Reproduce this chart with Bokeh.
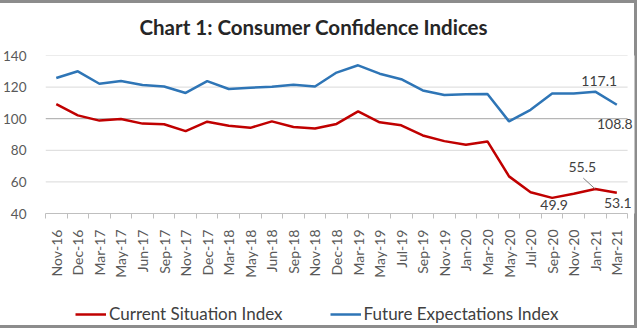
import math
from bokeh.plotting import figure
from bokeh.layouts import column
from bokeh.models import (Legend, LegendItem, FixedTicker, Label,
                          Range1d, ColumnDataSource)
from bokeh.embed import file_html
from bokeh.resources import INLINE

categories = ["Nov-16", "Dec-16", "Mar-17", "May-17", "Jun-17", "Sep-17", "Nov-17",
              "Dec-17", "Mar-18", "May-18", "Jun-18", "Sep-18", "Nov-18", "Dec-18",
              "Mar-19", "May-19", "Jul-19", "Sep-19", "Nov-19", "Jan-20", "Mar-20",
              "May-20", "Jul-20", "Sep-20", "Nov-20", "Jan-21", "Mar-21"]
current = [109.2, 102.1, 98.8, 99.8, 96.9, 96.5, 92.1, 98.1, 95.6, 94.2, 98.3, 94.8,
           93.8, 96.7, 104.6, 97.7, 95.8, 89.4, 85.8, 83.5, 85.6, 63.5, 53.5, 49.9,
           52.5, 55.5, 53.1]
future = [125.8, 130.0, 122.1, 123.8, 121.3, 120.4, 116.3, 123.8, 118.8, 119.6, 120.2,
          121.5, 120.4, 129.2, 133.8, 128.5, 125.0, 117.9, 115.0, 115.4, 115.6, 98.3,
          105.6, 116.0, 116.0, 117.1, 108.8]
series_names = ["Current Situation Index", "Future Expectations Index"]
y_ticks = [40, 60, 80, 100, 120, 140]

FONT = "Lato"
TXT = "#595959"
RED = "#C00000"
BLUE = "#2E75B6"
EDGE = "#8C8C8C"

N = len(categories)
xs = list(range(N))
x_lo, x_hi = -0.5, N - 0.5

p = figure(width=637, height=292, output_backend="svg", toolbar_location=None,
           x_range=Range1d(x_lo, x_hi + 0.32), y_range=Range1d(40, 140),
           min_border_left=41, min_border_right=3, min_border_top=53,
           min_border_bottom=79, background_fill_color="white",
           border_fill_color=None)
p.outline_line_color = None
p.styles = {"background-color": "white",
            "box-shadow": f"inset 0 3px 0 {EDGE}, inset -3px 0 0 {EDGE}"}

p.title.text = "Chart 1: Consumer Confidence Indices"
p.title.align = "left"
p.title.offset = 94
p.title.text_font = FONT
p.title.text_font_size = "20.5px"
p.title.text_font_style = "bold"
p.title.text_color = "#262626"
p.title.standoff = 29
p.title.vertical_align = "top"

# axes
p.yaxis.ticker = FixedTicker(ticks=y_ticks)
p.yaxis.axis_line_color = None
p.yaxis.major_tick_line_color = None
p.yaxis.minor_tick_line_color = None
p.yaxis.major_label_standoff = 13
p.yaxis.major_label_text_font = FONT
p.yaxis.major_label_text_font_size = "13.5px"
p.yaxis.major_label_text_color = TXT

p.xaxis.ticker = FixedTicker(ticks=xs, minor_ticks=[i - 0.5 for i in range(N + 1)])
p.xaxis.bounds = (x_lo, x_hi)
p.xaxis.major_label_overrides = {i: c for i, c in enumerate(categories)}
p.xaxis.major_label_orientation = math.pi / 2
p.xaxis.major_tick_line_color = None
p.xaxis.minor_tick_in = 0
p.xaxis.minor_tick_out = 5
p.xaxis.minor_tick_line_color = "#BFBFBF"
p.xaxis.axis_line_color = "#BFBFBF"
p.xaxis.major_label_standoff = 10
p.xaxis.major_label_text_font = FONT
p.xaxis.major_label_text_font_size = "14px"
p.xaxis.major_label_text_color = TXT

p.xgrid.grid_line_color = None
p.ygrid.grid_line_color = None

# horizontal gridlines limited to the category span
grid_y = [t for t in y_ticks if t != 40]
grid_src = ColumnDataSource(dict(x0=[x_lo] * len(grid_y), x1=[x_hi] * len(grid_y), y=grid_y,
                                 c=["#A6A6A6" if t == 100 else "#D9D9D9" for t in grid_y]))
p.segment("x0", "y", "x1", "y", source=grid_src, line_color="c", line_width=1)

p.line(xs, current, line_color=RED, line_width=2.5)
p.line(xs, future, line_color=BLUE, line_width=2.5)

# data labels
lab_kw = dict(text_font=FONT, text_font_size="14px", text_color="#404040",
              text_align="center", text_baseline="middle")
n = N - 1
p.add_layout(Label(x=n - 1, y=future[n - 1], text=f"{future[n - 1]:.1f}", x_offset=4, y_offset=11, **lab_kw))
p.add_layout(Label(x=n, y=future[n], text=f"{future[n]:.1f}", x_offset=-2, y_offset=-19, **lab_kw))
p.add_layout(Label(x=n - 1, y=current[n - 1], text=f"{current[n - 1]:.1f}", x_offset=-13, y_offset=22, **lab_kw))
p.add_layout(Label(x=n - 3, y=current[n - 3], text=f"{current[n - 3]:.1f}", x_offset=2, y_offset=-7, **lab_kw))
p.add_layout(Label(x=n, y=current[n], text=f"{current[n]:.1f}", x_offset=1, y_offset=-10, **lab_kw))

# leader line for the 55.5 label
px_per_x = 586 / N
px_per_y = 160 / 100
seg = ColumnDataSource(dict(x0=[n - 1 - 12 / px_per_x], y0=[current[n - 1] + 11 / px_per_y],
                            x1=[n - 1], y1=[current[n - 1]]))
p.segment("x0", "y0", "x1", "y1", source=seg, line_color="#7F7F7F", line_width=1)

# legend strip (series drawn out of view; only the legend shows)
q = figure(width=637, height=36, output_backend="svg", toolbar_location=None,
           x_range=Range1d(-2, -1), y_range=Range1d(-2, -1),
           x_axis_location=None, y_axis_location=None,
           min_border=0, background_fill_color=None, border_fill_color=None)
q.grid.visible = False
q.outline_line_color = None
q.styles = {"background-color": "white",
            "box-shadow": f"inset -3px 0 0 {EDGE}, inset 0 -3px 0 {EDGE}"}
l_cur = q.line(xs, current, line_color=RED, line_width=2.5)
l_fut = q.line(xs, future, line_color=BLUE, line_width=2.5)
legend = Legend(items=[LegendItem(label=series_names[0], renderers=[l_cur]),
                       LegendItem(label=series_names[1], renderers=[l_fut])],
                orientation="horizontal", location=(30, 4), spacing=47,
                glyph_width=31, glyph_height=16, label_standoff=3, padding=0, margin=0,
                border_line_color=None, background_fill_alpha=0,
                label_text_font=FONT, label_text_font_size="17px",
                label_text_color="#404040")
q.add_layout(legend)

open("out.html", "w").write(file_html(column(p, q, spacing=0), INLINE))
